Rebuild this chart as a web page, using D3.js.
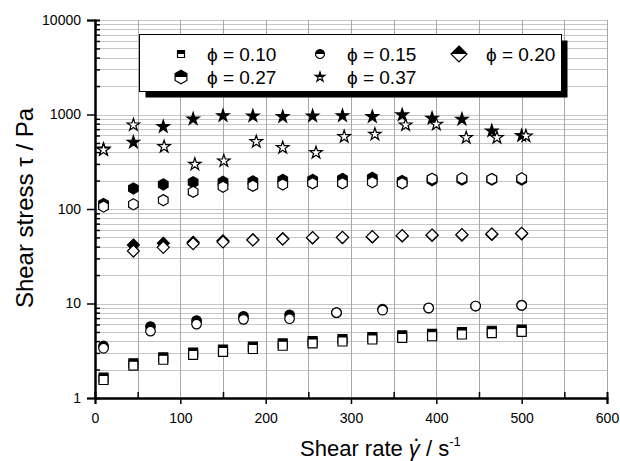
<!DOCTYPE html>
<html>
<head>
<meta charset="utf-8">
<script src="https://cdn.jsdelivr.net/npm/d3@7/dist/d3.min.js"></script>
<style>
body{margin:0;background:#fff;}
svg{font-family:"Liberation Sans",Arial,sans-serif;}
</style>
</head>
<body>
<div id="chart"></div>
<script>
// shear rates (s^-1)
var rate15 = [10, 45, 80, 115, 150, 185, 220, 255, 290, 325, 360, 395, 430, 465, 500];
var rate14 = [45, 80, 115, 150, 185, 220, 255, 290, 325, 360, 395, 430, 465, 500];
var rate10 = [10, 65, 119, 174, 228, 283, 337, 391, 446, 500];
var rateStarDown = [10, 45, 81, 117, 151, 189, 220, 259, 292, 328, 364, 400, 435, 471, 505];

// shear stress (Pa), up = filled, down = open
var phi010Up   = [1.64, 2.33, 2.69, 3.03, 3.26, 3.49, 3.78, 4.0, 4.2, 4.4, 4.59, 4.78, 4.98, 5.15, 5.3];
var phi010Down = [1.55, 2.2, 2.54, 2.86, 3.08, 3.3, 3.57, 3.78, 3.96, 4.16, 4.33, 4.5, 4.7, 4.86, 5.0];
var phi015Up   = [3.55, 5.7, 6.6, 7.3, 7.6, 8.0, 8.7, 9.0, 9.4, 9.6];
var phi015Down = [3.36, 5.1, 6.05, 6.8, 6.9, 8.0, 8.5, 8.95, 9.4, 9.55];
var phi020Up   = [41.6, 43.4, 44.5, 46, 47.3, 48.4, 49.6, 49.8, 50.6, 51.8, 52.6, 53.0, 53.8, 54.6];
var phi020Down = [35.9, 39.3, 43, 44.8, 47, 48.2, 49.7, 50.1, 51, 52.2, 53.1, 53.5, 54.4, 55.3];
var phi027Up   = [113, 165, 182, 192, 194, 196, 203, 203, 208, 214, 198, 202, 205, 205, 205];
var phi027Down = [106, 112, 124, 152, 172, 176, 182, 187, 187, 192, 187, 209, 211, 208, 211];
var phi037Up   = [430, 508, 743, 896, 970, 964, 948, 964, 970, 948, 988, 912, 890, 669, 597];
var phi037Down = [421, 774, 456, 297, 322, 515, 445, 394, 582, 617, 774, 788, 568, 568, 592];

var legendLabels = ["\u03D5 = 0.10", "\u03D5 = 0.15", "\u03D5 = 0.20", "\u03D5 = 0.27", "\u03D5 = 0.37"];
var xTicks = [0, 100, 200, 300, 400, 500, 600];
var yTicks = [1, 10, 100, 1000, 10000];

function init() {
    var w = 620, h = 461;
    var left = 95, right = 607, top = 20, bottom = 398;

    var symHexagon = {draw: function(ctx, size) {
        var r = Math.sqrt(size / 2.598);
        for (var i = 0; i < 6; i++) {
            var a = Math.PI / 3 * i - Math.PI / 2;
            if (i == 0) ctx.moveTo(r * Math.cos(a), r * Math.sin(a));
            else ctx.lineTo(r * Math.cos(a), r * Math.sin(a));
        }
        ctx.closePath();
    }};
    var symDiamond = {draw: function(ctx, size) {
        var r = Math.sqrt(size / 2);
        ctx.moveTo(0, -r); ctx.lineTo(r, 0); ctx.lineTo(0, r); ctx.lineTo(-r, 0);
        ctx.closePath();
    }};

    var series = [
        {sym: d3.symbolSquare, size: 81, leg: 49, up: [rate15, phi010Up], down: [rate15, phi010Down]},
        {sym: d3.symbolCircle, size: 72, leg: 64, up: [rate10, phi015Up], down: [rate10, phi015Down]},
        {sym: symDiamond, size: 72, leg: 128, up: [rate14, phi020Up], down: [rate14, phi020Down]},
        {sym: symHexagon, size: 80, leg: 120, up: [rate15, phi027Up], down: [rate15, phi027Down]},
        {sym: d3.symbolStar, size: 48, leg: 30, up: [rate15, phi037Up], down: [rateStarDown, phi037Down]}
    ];

    var xscale = d3.scaleLinear().domain([0, 600]).range([left, right]);
    var yscale = d3.scaleLog().domain([1, 10000]).range([bottom, top]);

    var svg = d3.select("#chart").append("svg")
        .attr("width", w).attr("height", h);

    // grid
    svg.append("g").selectAll("line")
        .data(yscale.ticks())
        .enter().append("line")
        .attr("x1", left).attr("x2", right)
        .attr("y1", function(d) { return Math.round(yscale(d)) + 0.5; })
        .attr("y2", function(d) { return Math.round(yscale(d)) + 0.5; })
        .attr("stroke", "#c6c6c6");

    svg.append("g").selectAll("line")
        .data(d3.range(50, 601, 50))
        .enter().append("line")
        .attr("y1", top).attr("y2", bottom)
        .attr("x1", function(d) { return Math.round(xscale(d)) + 0.5; })
        .attr("x2", function(d) { return Math.round(xscale(d)) + 0.5; })
        .attr("stroke", "#a8a8a8");

    // legend box
    var lx = 139.5, ly = 34.5, lw = 422, lh = 57;
    svg.append("rect").attr("x", lx + 6).attr("y", ly + 6).attr("width", lw).attr("height", lh)
        .attr("fill", "#000");
    svg.append("rect").attr("x", lx).attr("y", ly).attr("width", lw).attr("height", lh)
        .attr("fill", "#fff").attr("stroke", "#000");

    // data
    series.forEach(function(s) {
        var g = svg.append("g");
        var sym = d3.symbol().type(s.sym).size(s.size);
        g.selectAll(".up")
            .data(d3.zip(s.up[0], s.up[1]))
            .enter().append("path")
            .attr("transform", function(d) { return "translate(" + xscale(d[0]) + "," + yscale(d[1]) + ")"; })
            .attr("d", sym)
            .attr("fill", "#000").attr("stroke", "#000").attr("stroke-width", 1.2);
        g.selectAll(".down")
            .data(d3.zip(s.down[0], s.down[1]))
            .enter().append("path")
            .attr("transform", function(d) { return "translate(" + xscale(d[0]) + "," + yscale(d[1]) + ")"; })
            .attr("d", sym)
            .attr("fill", "#fff").attr("stroke", "#000").attr("stroke-width", 1.2);
    });

    // legend entries
    svg.append("defs").append("clipPath").attr("id", "tophalf")
        .append("rect").attr("x", -20).attr("y", -20).attr("width", 40).attr("height", 20);

    var legPos = [[181, 54], [320, 54], [459, 54], [181, 77], [320, 77]];
    var textX = [207, 347, 486, 207, 347];
    series.forEach(function(s, i) {
        var g = svg.append("g").attr("transform", "translate(" + legPos[i][0] + "," + legPos[i][1] + ")");
        var sym = d3.symbol().type(s.sym).size(s.leg);
        g.append("path").attr("d", sym).attr("fill", "#fff");
        g.append("path").attr("d", sym).attr("fill", "#000").attr("clip-path", "url(#tophalf)");
        g.append("path").attr("d", sym).attr("fill", "none").attr("stroke", "#000").attr("stroke-width", 1.2);
        svg.append("text")
            .attr("x", textX[i]).attr("y", legPos[i][1] + 7)
            .attr("font-size", 19)
            .text(legendLabels[i]);
    });

    // axes
    var xAxis = d3.axisBottom(xscale).tickValues(xTicks).tickSize(6).tickPadding(9);
    var xMinor = d3.axisBottom(xscale).tickValues([50, 150, 250, 350, 450, 550]).tickSize(-6).tickFormat("");
    var yAxis = d3.axisLeft(yscale).tickValues(yTicks).tickSize(8).tickPadding(6).tickFormat(d3.format("d"));
    var yMinor = d3.axisLeft(yscale).tickValues(yscale.ticks().filter(function(d) { return yTicks.indexOf(d) < 0; }))
        .tickSize(-5).tickFormat("");

    var gx = svg.append("g").attr("transform", "translate(0," + bottom + ")").call(xAxis);
    var gxm = svg.append("g").attr("transform", "translate(0," + bottom + ")").call(xMinor);
    var gy = svg.append("g").attr("transform", "translate(" + left + ",0)").call(yAxis);
    var gym = svg.append("g").attr("transform", "translate(" + left + ",0)").call(yMinor);

    [gx, gxm, gy, gym].forEach(function(g) {
        g.selectAll(".domain").attr("stroke-width", 2).attr("stroke", "#000");
        g.selectAll(".tick line").attr("stroke-width", 1.5).attr("stroke", "#000");
        g.selectAll("text").attr("font-size", 14).attr("fill", "#000")
            .attr("font-family", "Liberation Sans, Arial, sans-serif");
    });

    // titles
    var xt = svg.append("text").attr("x", 300).attr("y", 456).attr("font-size", 22);
    var t1 = xt.append("tspan").text("Shear rate ");
    var tg = xt.append("tspan").attr("font-style", "italic").text("\u03B3");
    var td = xt.append("tspan").text(".");
    var tr = xt.append("tspan").text(" / s");
    xt.append("tspan").attr("font-size", 13).attr("dy", -10).text("-1");
    // dot above gamma
    var gw = tg.node().getComputedTextLength();
    var dw = td.node().getComputedTextLength();
    td.attr("dx", -gw / 2 - dw / 2 + 2).attr("dy", -15);
    tr.attr("dx", gw / 2 - dw / 2 - 2).attr("dy", 15);

    svg.append("text")
        .attr("transform", "translate(33,208) rotate(-90)")
        .attr("text-anchor", "middle")
        .attr("font-size", 24)
        .text("Shear stress \u03C4 / Pa");
}

window.onload = init;
</script>
</body>
</html>
